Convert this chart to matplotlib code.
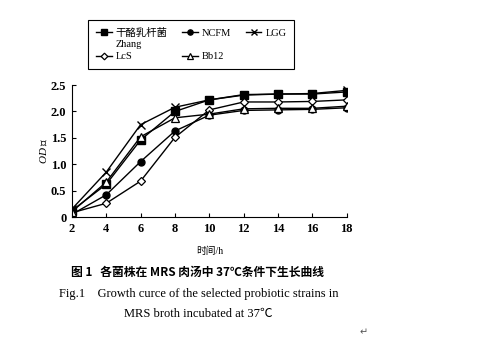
import matplotlib
matplotlib.use("Agg")
import matplotlib.pyplot as plt

plt.rcParams['font.family'] = ['Liberation Serif', 'Noto Sans CJK SC', 'DejaVu Sans']
plt.rcParams['mathtext.fontset'] = 'custom'
plt.rcParams['mathtext.it'] = 'Liberation Serif:italic'
plt.rcParams['mathtext.rm'] = 'Liberation Serif'

hours = [2, 4, 6, 8, 10, 12, 14, 16, 18]
zhang = [0.12, 0.62, 1.46, 2.00, 2.22, 2.31, 2.33, 2.33, 2.37]
ncfm = [0.05, 0.42, 1.05, 1.63, 1.93, 2.02, 2.03, 2.04, 2.07]
lgg = [0.15, 0.85, 1.75, 2.08, 2.22, 2.32, 2.33, 2.34, 2.40]
lcs = [0.08, 0.26, 0.68, 1.51, 2.03, 2.18, 2.18, 2.19, 2.22]
bb12 = [0.10, 0.66, 1.52, 1.88, 1.95, 2.05, 2.06, 2.06, 2.10]


def main():
    fig = plt.figure(figsize=(4.79, 3.59), dpi=100)
    ax = fig.add_axes([0.150, 0.3955, 0.574, 0.3675])

    kw = dict(color='black', lw=1.0)
    h_zhang, = ax.plot(hours, zhang, marker='s', ms=5.5, **kw)
    h_ncfm, = ax.plot(hours, ncfm, marker='o', ms=5, **kw)
    h_lgg, = ax.plot(hours, lgg, marker='x', ms=6, mew=1.0, **kw)
    h_lcs, = ax.plot(hours, lcs, marker='D', ms=4.5, mfc='white', mew=0.9, **kw)
    h_bb12, = ax.plot(hours, bb12, marker='^', ms=5.5, mfc='white', mew=0.9, **kw)

    ax.set_xlim(2, 18)
    ax.set_ylim(0, 2.5)
    ax.set_xticks(hours)
    ax.set_yticks([0, 0.5, 1.0, 1.5, 2.0, 2.5])
    ax.set_yticklabels(['0', '0.5', '1.0', '1.5', '2.0', '2.5'])
    ax.spines['top'].set_visible(False)
    ax.spines['right'].set_visible(False)
    ax.tick_params(direction='in', length=3, labelsize=9, pad=4)
    for t in ax.get_xticklabels() + ax.get_yticklabels():
        t.set_fontweight('bold')

    ax.set_xlabel('时间/h', fontsize=7, labelpad=9)
    ax.set_ylabel(r'$OD$ 值', fontsize=8, labelpad=1)

    # legend: 3 columns, filled column-wise
    leg = fig.legend([h_zhang, h_lcs, h_ncfm, h_bb12, h_lgg],
                     ['干酪乳杆菌', 'LcS', 'NCFM', 'Bb12', 'LGG'],
                     ncol=3, loc='upper left', bbox_to_anchor=(0.173, 0.958),
                     fontsize=7.5, frameon=True, fancybox=False, edgecolor='black',
                     framealpha=1, handlelength=1.5, columnspacing=1.4,
                     labelspacing=1.35, borderpad=0.75, handletextpad=0.4,
                     markerscale=0.75)
    leg.get_frame().set_linewidth(0.8)

    fig.canvas.draw()
    bb = leg.get_texts()[0].get_window_extent()
    x0, y0 = fig.transFigure.inverted().transform((bb.x0, bb.y0))
    fig.text(x0, y0 - 0.004, 'Zhang', ha='left', va='top', fontsize=7.5,
             zorder=10)

    fig.text(0.412, 0.240, '图 1   各菌株在 MRS 肉汤中 37℃条件下生长曲线',
             ha='center', va='center', fontsize=8.5, fontweight='bold',
             family=['Noto Sans CJK SC', 'DejaVu Sans'])
    fig.text(0.415, 0.181, 'Fig.1    Growth curce of the selected probiotic strains in',
             ha='center', va='center', fontsize=9)
    fig.text(0.413, 0.125, 'MRS broth incubated at 37℃',
             ha='center', va='center', fontsize=9)
    fig.text(0.758, 0.075, '↵', ha='center', va='center', fontsize=7,
             color='#555555', family=['DejaVu Sans'])

    fig.savefig('out.png', dpi=100)


if __name__ == "__main__":
    main()
